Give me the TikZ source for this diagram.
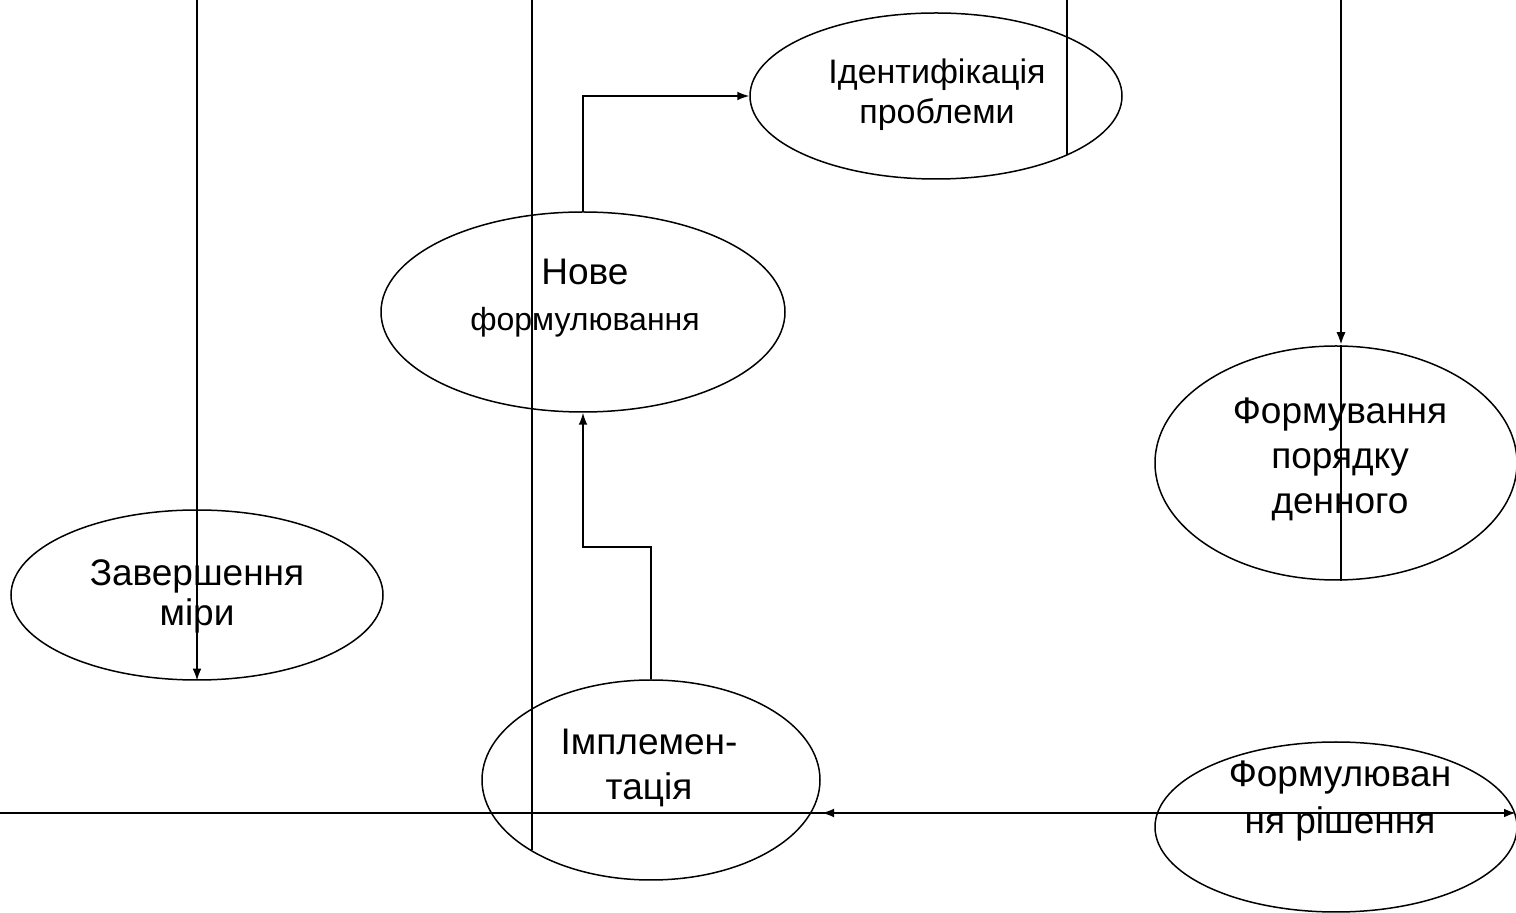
\documentclass[tikz,border=0pt]{standalone}
\usepackage{fontspec}
\setmainfont{Liberation Sans}
\usetikzlibrary{shapes.geometric,arrows.meta}
\begin{document}
\begin{tikzpicture}[x=0.5pt,y=-0.5pt,
  ell/.style={draw, ellipse, line width=0.75pt, inner sep=0pt},
  conn/.style={line width=0.75pt},
  thick conn/.style={line width=1.05pt},
  tip/.style={-{Latex[length=6pt,width=4.4pt]}},
  lbl/.style={align=center, inner sep=0pt, font=\fontsize{18.5}{20}\selectfont}]
\useasboundingbox (0,0) rectangle (1516,913);
% ellipses
\node[ell, minimum width=372pt*0.5, minimum height=166pt*0.5] (ident) at (936,96) {};
\node[ell, minimum width=404pt*0.5, minimum height=200pt*0.5] (nove) at (583,312) {};
\node[ell, minimum width=362pt*0.5, minimum height=234pt*0.5] (form) at (1336,463) {};
\node[ell, minimum width=372pt*0.5, minimum height=170pt*0.5] (zav) at (197,595) {};
\node[ell, minimum width=338pt*0.5, minimum height=200pt*0.5] (impl) at (651,780) {};
\node[ell, minimum width=362pt*0.5, minimum height=170pt*0.5] (frm) at (1336,827) {};
% texts
\node[lbl, font=\fontsize{17}{20}\selectfont] (tident) at (937,95) {Ідентифікація\\проблеми};
\node[lbl, font=\fontsize{16}{23}\selectfont] (tnove) at (585,298) {{\fontsize{18.5}{23}\selectfont Нове}\\формулювання};
\node[lbl, font=\fontsize{18.5}{22.5}\selectfont] (tform) at (1340,459) {Формування\\порядку\\денного};
\node[lbl] (tzav) at (197,596) {Завершення\\міри};
\node[lbl, font=\fontsize{18.5}{22.5}\selectfont] (timpl) at (649,768) {Імплемен-\\тація};
\node[lbl, font=\fontsize{18.5}{23.5}\selectfont] (tfrm) at (1340,801) {Формулюван\\ня рішення};
% free ends
\coordinate (a) at (197,0);
\coordinate (b) at (532,0);
\coordinate (c) at (1067,0);
\coordinate (d) at (1341,0);
\coordinate (hl) at (0,813);
\coordinate (hr) at (1516,813);
\coordinate (itip) at (822,813);
\coordinate (mid) at (651,547);
% connectors
\draw[thick conn, tip] (a) -- (zav.south);
\draw[conn] (b) -- (b |- impl.210.8);
\draw[conn] (c) -- (c |- ident.-24.2);
\draw[line width=1.3pt, -{Latex[length=6.5pt,width=4.6pt]}] (d) -- (d |- form.north);
\draw[conn] (d |- form.north) -- (d |- form.south);
\draw[conn, tip] (nove.north) |- (ident.west);
\draw[conn, tip] (impl.north) -- (mid) -| (nove.south);
\draw[thick conn, tip] (hl) -- (hr);
\draw[conn, tip] (frm.west |- hr) -- (itip);
\end{tikzpicture}
\end{document}
